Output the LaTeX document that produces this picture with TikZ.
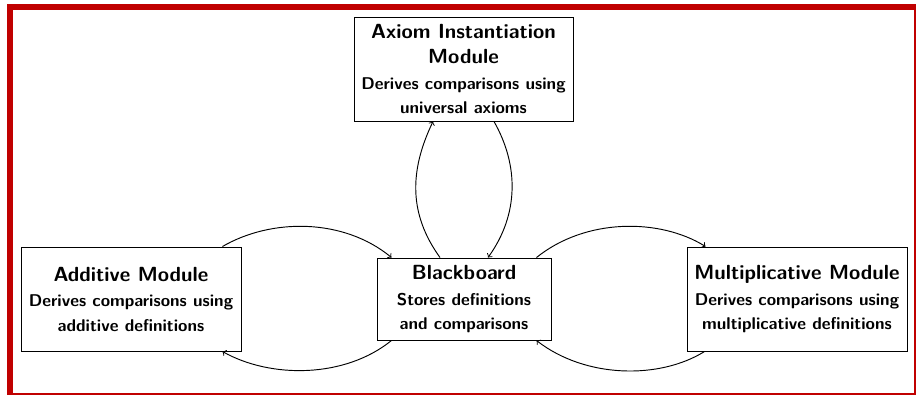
\documentclass[tikz,border=0pt]{standalone}
\usetikzlibrary{calc}
\definecolor{framered}{RGB}{192,0,0}
\newcommand{\ttl}[1]{{\fontsize{13.1}{15.4}\selectfont #1}}
\tikzset{
  box/.style={draw, line width=0.6pt, align=center, inner sep=0pt,
    font=\fontsize{10.9}{15.4}\selectfont\sffamily\bfseries},
  link/.style={->, line width=0.6pt},
  band/.style={fill=framered, draw=none}
}
\begin{document}
\begin{tikzpicture}[x=0.64pt, y=-0.64pt]
\useasboundingbox (0,0) rectangle (916,395);
% frame
\fill[band] (7,4) rectangle (916,10);
\fill[band] (7,4) rectangle (13,395);
\fill[band] (914,4) rectangle (916,395);
\fill[band] (7,393) rectangle (916,395);
% nodes
\node[box, minimum width=140.2pt, minimum height=66.6pt] (ax) at (463.5,69)
  {\ttl{Axiom Instantiation}\\[1.2pt]\ttl{Module}\\[1.2pt]Derives comparisons using\\universal axioms};
\node[box, minimum width=140.8pt, minimum height=66.6pt] (add) at (131,299)
  {\ttl{Additive Module}\\[1.2pt]Derives comparisons using\\additive definitions};
\node[box, minimum width=111.4pt, minimum height=52.5pt] (bb) at (464,299)
  {\ttl{Blackboard}\\[1.2pt]Stores definitions\\and comparisons};
\node[box, minimum width=140.8pt, minimum height=66.6pt] (mul) at (797,299)
  {\ttl{Multiplicative Module}\\[1.2pt]Derives comparisons using\\multiplicative definitions};
% connectors
\draw[link] ($(add.north east)+(-19,0)$) .. controls +(49,-28.5) and +(-48,-39.5) .. ($(bb.north west)+(15,0)$);
\draw[link] ($(bb.south west)+(15,0)$) .. controls +(-47,38) and +(48,27) .. ($(add.south east)+(-19,0)$);
\draw[link] ($(bb.north)+(-24,0)$) .. controls +(-31,-43) and +(-24,50) .. ($(ax.south)+(-30.5,0)$);
\draw[link] ($(ax.south)+(30.5,0)$) .. controls +(25,44) and +(31,-43) .. ($(bb.north)+(24,0)$);
\draw[link] ($(bb.north east)+(-15,0)$) .. controls +(49,-39.5) and +(-46,-28.5) .. ($(mul.north west)+(19,0)$);
\draw[link] ($(mul.south west)+(18,0)$) .. controls +(-45,28) and +(49,38) .. ($(bb.south east)+(-15,0)$);
\end{tikzpicture}
\end{document}
